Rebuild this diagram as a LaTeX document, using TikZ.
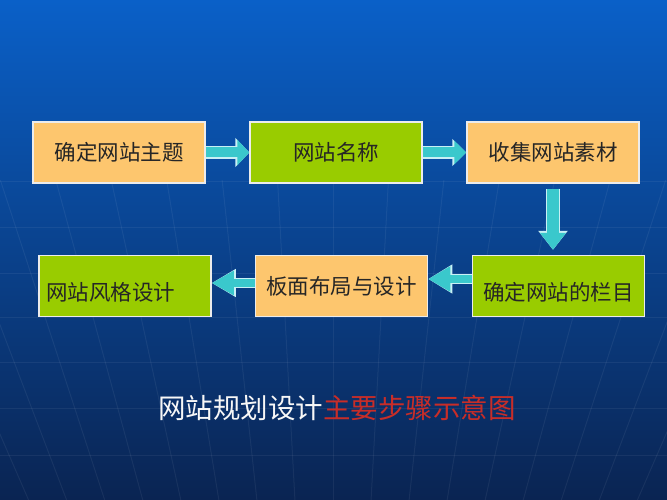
\documentclass[tikz,border=0pt]{standalone}
\usepackage{fontspec}
\setmainfont{Noto Sans CJK SC}
\usetikzlibrary{arrows.meta,calc}
\definecolor{bgtop}{RGB}{10,96,200}
\definecolor{bgmid}{RGB}{11,72,160}
\definecolor{bgbot}{RGB}{10,36,82}
\definecolor{boxorange}{RGB}{253,198,110}
\definecolor{boxgreen}{RGB}{153,204,0}
\definecolor{turq}{RGB}{58,200,204}
\definecolor{rim}{RGB}{200,240,245}
\definecolor{titlered}{RGB}{200,45,40}
\tikzset{
  box/.style={draw=white!85!gray,line width=1.5pt,minimum width=172pt,minimum height=61pt,
    inner sep=0pt,font=\fontsize{21.5}{21.5}\selectfont,text=black!85},
  low/.style={text height=31pt,text depth=3pt},
  arr/.style n args={3}{draw=turq,line width=#1,-{Triangle[length=#2,width=#3]},
    preaction={draw=rim,line width=#1+2.4pt,-{Triangle[length=#2+2pt,width=#3+3.4pt]}}},
  grid/.style={white,opacity=.06,line width=1pt}
}
\begin{document}
\begin{tikzpicture}[x=1pt,y=-1pt]
\useasboundingbox (0,0) rectangle (667,500);
\shade[top color=bgtop,middle color=bgmid,bottom color=bgbot] (0,0) rectangle (667,500);
% globe lines
\foreach \y in {182,227,273,317,362,408,455} \draw[grid] (0,\y) -- (667,\y);
\foreach \x in {-51,-3,45,93,141,189,237,285,333,381,429,477,525,573,621,669,717}
  \draw[grid] ($(\x,317)!-0.155!(333,1200)$) -- ($(\x,317)!0.211!(333,1200)$);

\node[box,fill=boxorange](1) at (119,152.5) {确定网站主题};
\node[box,fill=boxgreen](2) at (336,152.5) {网站名称};
\node[box,fill=boxorange](3) at (553,152.5) {收集网站素材};
\node[box,fill=boxgreen,low,align=left,text width=158pt](4) at (125,286) {网站风格设计};
\node[box,fill=boxorange](5) at (341.5,286) {板面布局与设计};
\node[box,fill=boxgreen,low](6) at (558.5,286) {确定网站的栏目};

\path (1.east) edge[arr={10pt}{12pt}{25pt}] (2.west);
\path (2.east) edge[arr={10pt}{12pt}{23pt}] (3.west);
\path (3.south) edge[arr={12pt}{17pt}{25pt},shorten <=5pt,shorten >=5pt] (3.south |- 6.north);
\path ([yshift=3pt]5.west) edge[arr={8.5pt}{22pt}{23pt}] ([yshift=3pt]4.east);
\path ([yshift=7pt]6.west) edge[arr={8.5pt}{22pt}{24pt}] ([yshift=7pt]5.east);

\node[text=white!94!gray,font=\fontsize{27.5}{27.5}\selectfont](7) at (337,408)
  {网站规划设计\textcolor{titlered}{主要步骤示意图}};
\end{tikzpicture}
\end{document}
